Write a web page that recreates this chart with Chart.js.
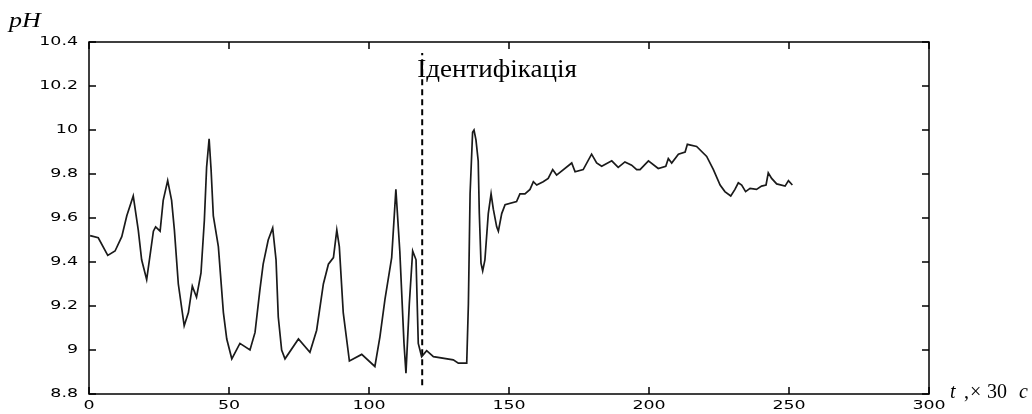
<!DOCTYPE html>
<html lang="uk">
<head>
  <meta charset="UTF-8">
  <title>pH</title>
  <script src="https://cdn.jsdelivr.net/npm/chart.js"></script>
  <style>
    body { margin: 0; background: #fff; }
    #wrap { width: 1032px; height: 414px; position: relative; }
  </style>
</head>
<body>
  <div id="wrap"><canvas id="grafico" width="1032" height="414"></canvas></div>

  <script>
    // time (x 30 s) and pH
    const tVals = [0.4, 3.3, 6.7, 9.3, 11.7, 13.5, 15.8, 17.6, 18.8, 20.6, 23, 23.8, 25.4, 26.5, 28.1, 29.5, 30.5, 31.9,
      34, 35.5, 36.9, 38.4, 40, 41.2, 42, 42.9, 43.6, 44.4, 46.2, 48, 49.2, 51, 53.9, 57.5, 59.3, 61, 62.2, 64, 65.6,
      66.8, 67.6, 68.8, 70, 74.8, 78.9, 81.3, 83.7, 85.5, 87.3, 88.5, 89.4, 90.8, 93, 97.4, 102.1, 103.9, 105.7,
      108.1, 109.6, 111, 112.5, 113.2, 114.4, 115.6, 116.8, 117.6, 118.8, 120.6, 123, 130.1, 131.9, 134.9, 135.5,
      136.1, 137, 137.5, 138.2, 139, 139.4, 140, 140.6, 141.4, 142.6, 143.6, 144.4, 145.6, 146.2, 147.4, 148.6,
      152.7, 153.9, 155.7, 157.5, 158.7, 159.9, 162.2, 164, 165.6, 167, 172.4, 173.6, 176.5, 179.5, 181.3, 183.1,
      186.7, 189, 191.4, 193.8, 195.6, 196.8, 199.8, 203.3, 206, 206.9, 208.1, 210.5, 212.9, 213.7, 217, 220.6,
      223, 225.4, 227.1, 229.2, 230.7, 231.9, 233.1, 234.5, 236.1, 238.4, 240.2, 241.8, 242.6, 243.8, 245.6,
      248.6, 249.8, 251.2];
    const phVals = [9.52, 9.51, 9.43, 9.45, 9.515, 9.61, 9.70, 9.545, 9.41, 9.32, 9.54, 9.56, 9.54, 9.68, 9.77, 9.68,
      9.545, 9.30, 9.11, 9.17, 9.29, 9.24, 9.35, 9.59, 9.83, 9.96, 9.82, 9.61, 9.47, 9.17, 9.05, 8.96, 9.03, 9.00,
      9.08, 9.27, 9.39, 9.50, 9.555, 9.41, 9.15, 9.00, 8.96, 9.05, 8.99, 9.09, 9.30, 9.39, 9.42, 9.545, 9.47, 9.17,
      8.95, 8.98, 8.925, 9.06, 9.23, 9.42, 9.73, 9.45, 9.03, 8.895, 9.21, 9.45, 9.41, 9.03, 8.97, 8.997, 8.97,
      8.955, 8.94, 8.94, 9.21, 9.71, 9.99, 10.0, 9.955, 9.86, 9.62, 9.395, 9.36, 9.41, 9.62, 9.71, 9.64, 9.56,
      9.54, 9.62, 9.66, 9.675, 9.71, 9.71, 9.73, 9.765, 9.75, 9.765, 9.78, 9.82, 9.795, 9.85, 9.81, 9.82, 9.89,
      9.85, 9.835, 9.86, 9.83, 9.855, 9.84, 9.82, 9.82, 9.86, 9.825, 9.835, 9.87, 9.85, 9.89, 9.90, 9.935, 9.925,
      9.88, 9.82, 9.75, 9.72, 9.70, 9.73, 9.76, 9.75, 9.72, 9.735, 9.73, 9.745, 9.75, 9.805, 9.78, 9.755, 9.745,
      9.77, 9.75];
    const identT = 119;
    const identRange = [8.84, 10.35];
    const xTicks = [0, 50, 100, 150, 200, 250, 300];
    const yTicks = [8.8, 9, 9.2, 9.4, 9.6, 9.8, 10, 10.2, 10.4];

    // text stretched sideways, like in the scanned figure
    function tekst(ctx, s, x, y, sx) {
      ctx.save();
      ctx.translate(x, y);
      ctx.scale(sx, 1);
      ctx.fillText(s, 0, 0);
      ctx.restore();
    }

    // inward ticks, full box, tick labels and the captions
    const ramka = {
      id: 'ramka',
      afterDraw(chart) {
        const ctx = chart.ctx;
        const a = chart.chartArea;
        const sx = chart.scales.x, sy = chart.scales.y;
        ctx.save();
        ctx.strokeStyle = '#000';
        ctx.lineWidth = 1.5;
        ctx.strokeRect(a.left, a.top, a.right - a.left, a.bottom - a.top);
        ctx.beginPath();
        for (const v of xTicks) {
          const p = sx.getPixelForValue(v);
          ctx.moveTo(p, a.bottom); ctx.lineTo(p, a.bottom - 7);
          ctx.moveTo(p, a.top); ctx.lineTo(p, a.top + 7);
        }
        for (const v of yTicks) {
          const p = sy.getPixelForValue(v);
          ctx.moveTo(a.left, p); ctx.lineTo(a.left + 7, p);
          ctx.moveTo(a.right, p); ctx.lineTo(a.right - 7, p);
        }
        ctx.stroke();

        ctx.fillStyle = '#000';
        ctx.font = '12px "DejaVu Sans"';
        ctx.textBaseline = 'middle';
        const k = 1.45;
        for (const v of yTicks) {
          const s = String(+v.toFixed(1));
          const w = ctx.measureText(s).width * k;
          tekst(ctx, s, a.left - 11 - w, sy.getPixelForValue(v), k);
        }
        for (const v of xTicks) {
          const s = String(v);
          const w = ctx.measureText(s).width * k;
          tekst(ctx, s, sx.getPixelForValue(v) - w / 2, a.bottom + 12, k);
        }

        ctx.textBaseline = 'alphabetic';
        ctx.font = 'italic 20px "Liberation Serif"';
        tekst(ctx, 'pH', 9, 27, 1.3);
        ctx.fillText('t', 950, 398);
        ctx.fillText('c', 1019, 398);
        ctx.font = '20px "Liberation Serif"';
        ctx.fillText(',', 964, 398);
        ctx.fillText('×', 970, 398);
        ctx.fillText('30', 987, 398);
        ctx.font = '26px "Liberation Serif"';
        tekst(ctx, 'Ідентифікація', sx.getPixelForValue(identT) - 5, sy.getPixelForValue(10.24), 1.04);
        ctx.restore();
      }
    };

    const punkty = tVals.map((t, i) => ({ x: t, y: phVals[i] }));

    new Chart(document.getElementById('grafico'), {
      type: 'line',
      data: {
        datasets: [{
          data: punkty,
          borderColor: '#1a1a1a',
          borderWidth: 1.7,
          pointRadius: 0,
          tension: 0
        }, {
          data: [{ x: identT, y: identRange[0] }, { x: identT, y: identRange[1] }],
          borderColor: '#000',
          borderWidth: 2,
          borderDash: [6, 4],
          pointRadius: 0
        }]
      },
      options: {
        responsive: false,
        animation: false,
        layout: { padding: { top: 42, right: 103, left: 0, bottom: 0 } },
        plugins: { legend: { display: false }, tooltip: { enabled: false } },
        scales: {
          x: {
            type: 'linear', min: 0, max: 300,
            afterBuildTicks: s => { s.ticks = xTicks.map(v => ({ value: v })); },
            grid: { display: false, drawTicks: false },
            border: { display: false },
            ticks: { display: false },
            afterFit: s => { s.height = 20; }
          },
          y: {
            min: 8.8, max: 10.4,
            afterBuildTicks: s => { s.ticks = yTicks.map(v => ({ value: v })); },
            grid: { display: false, drawTicks: false },
            border: { display: false },
            ticks: { display: false },
            afterFit: s => { s.width = 89; }
          }
        }
      },
      plugins: [ramka]
    });
  </script>
</body>
</html>
